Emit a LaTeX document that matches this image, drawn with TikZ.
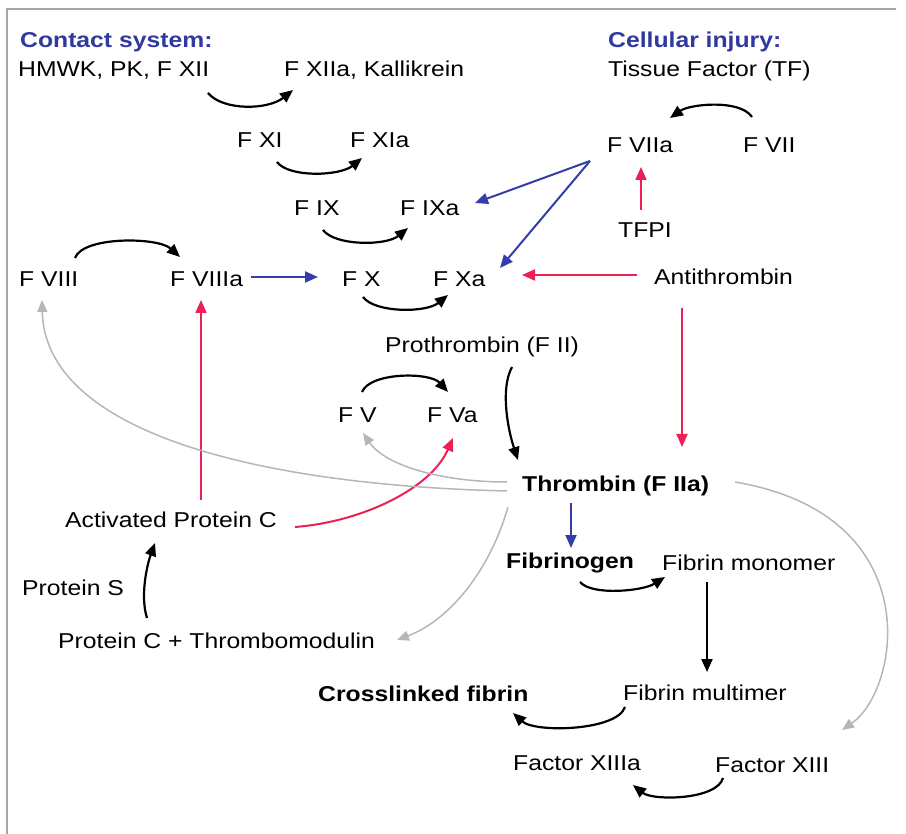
\documentclass[tikz,border=0pt]{standalone}
\usepackage{fontspec}
\setmainfont[FakeStretch=1.15]{Liberation Sans}
\usetikzlibrary{arrows.meta}
\definecolor{hblue}{RGB}{48,58,158}
\definecolor{ablue}{RGB}{52,62,168}
\definecolor{ared}{RGB}{236,32,84}
\definecolor{agray}{RGB}{182,182,182}
\definecolor{frame}{RGB}{165,165,165}
\tikzset{
  lbl/.style={inner sep=0pt, anchor=base west, font=\fontsize{21.5}{25}\selectfont},
  head/.style={lbl, font=\fontsize{21.5}{25}\selectfont\bfseries, text=hblue},
  bold/.style={lbl, font=\fontsize{21.5}{25}\selectfont\bfseries},
  tip/.style={-{Triangle[length=13pt,width=11pt]}},
  blk/.style={tip, line width=2.2pt, black},
  bluearr/.style={tip, line width=2pt, ablue},
  redarr/.style={tip, line width=2pt, ared},
  grayarr/.style={-{Triangle[length=12pt,width=10pt]}, line width=1.5pt, agray},
}
\begin{document}
\begin{tikzpicture}[x=1pt,y=-1pt]
\useasboundingbox (0,0) rectangle (906,834);
\draw[frame, line width=1.3pt] (7,834) -- (7,9) -- (896,9);

% nodes
\node[head] (cs) at (20,48) {Contact system:};
\node[lbl] (hm) at (18,77) {HMWK, PK, F XII};
\node[lbl] (fxiia) at (284,77) {F XIIa, Kallikrein};
\node[head] (ci) at (608,48) {Cellular injury:};
\node[lbl] (tf) at (608,77) {Tissue Factor (TF)};
\node[lbl] (fxi) at (237,148) {F XI};
\node[lbl] (fxia) at (350,148) {F XIa};
\node[lbl] (fviia) at (607,153) {F VIIa};
\node[lbl] (fvii) at (743,153) {F VII};
\node[lbl] (fix) at (294,216) {F IX};
\node[lbl] (fixa) at (400,216) {F IXa};
\node[lbl] (tfpi) at (618,238) {TFPI};
\node[lbl] (fviii) at (19,287) {F VIII};
\node[lbl] (fviiia) at (170,287) {F VIIIa};
\node[lbl] (fx) at (342,287) {F X};
\node[lbl] (fxa) at (433,287) {F Xa};
\node[lbl] (at) at (654,285) {Antithrombin};
\node[lbl] (pro) at (385,353) {Prothrombin (F II)};
\node[lbl] (fv) at (338,423) {F V};
\node[lbl] (fva) at (427,423) {F Va};
\node[bold] (thr) at (522,492) {Thrombin (F IIa)};
\node[lbl] (apc) at (65,527) {Activated Protein C};
\node[bold] (fbg) at (506,568) {Fibrinogen};
\node[lbl] (fm) at (662,570) {Fibrin monomer};
\node[lbl] (ps) at (22,595) {Protein S};
\node[lbl] (pctm) at (58,648) {Protein C + Thrombomodulin};
\node[bold] (cf) at (318,701) {Crosslinked fibrin};
\node[lbl] (fmul) at (623,700) {Fibrin multimer};
\node[lbl] (fxiiia) at (513,770) {Factor XIIIa};
\node[lbl] (fxiii) at (715,772) {Factor XIII};

% black conversion arrows
\draw[blk] ([shift={(190,16)}]hm.base west) .. controls +(15,18) and +(-25,20) .. ([shift={(9,13)}]fxiia.base west);
\draw[blk] ([shift={(40,14)}]fxi.base west) .. controls +(12,16) and +(-22,18) .. ([shift={(12,10)}]fxia.base west);
\draw[blk] ([shift={(29,14)}]fix.base west) .. controls +(12,16) and +(-22,18) .. ([shift={(8,12)}]fixa.base west);
\draw[blk] ([shift={(56,-29)}]fviii.base west) .. controls +(8,-22) and +(-22,-20) .. ([shift={(10,-30)}]fviiia.base west);
\draw[blk] ([shift={(21,10)}]fx.base west) .. controls +(12,16) and +(-22,18) .. ([shift={(15,8)}]fxa.base west);
\draw[blk] ([shift={(9,-36)}]fvii.base west) .. controls +(-12,-18) and +(20,-14) .. ([shift={(63,-35)}]fviia.base west);
\draw[blk] ([shift={(24,-31)}]fv.base west) .. controls +(8,-20) and +(-18,-20) .. ([shift={(21,-31)}]fva.base west);
\draw[blk] ([shift={(127,14)}]pro.base west) .. controls +(-12,22) and +(-10,-30) .. ([shift={(-4,-32)}]thr.base west);
\draw[blk] ([shift={(74,14)}]fbg.base west) .. controls +(12,14) and +(-22,14) .. ([shift={(3,7)}]fm.base west);
\draw[blk] ([shift={(45,12)}]fm.base west) -- ([shift={(84,-28)}]fmul.base west);
\draw[blk] ([shift={(2,7)}]fmul.base west) .. controls +(-8,24) and +(22,20) .. ([shift={(195,12)}]cf.base west);
\draw[blk] ([shift={(8,6)}]fxiii.base west) .. controls +(-6,22) and +(20,16) .. ([shift={(120,15)}]fxiiia.base west);
\draw[blk] ([shift={(89,-30)}]pctm.base west) .. controls +(-7,-22) and +(-8,22) .. ([shift={(90,16)}]apc.base west);

% blue arrows
\draw[bluearr] ([shift={(81,-10)}]fviiia.base west) -- ([shift={(-24,-10)}]fx.base west);
\coordinate (vsrc) at ([shift={(-17,8)}]fviia.base west);
\draw[bluearr] (vsrc) -- ([shift={(75,-13)}]fixa.base west);
\draw[bluearr] (vsrc) -- ([shift={(67,-19)}]fxa.base west);
\draw[bluearr] ([shift={(49,11)}]thr.base west) -- ([shift={(65,-20)}]fbg.base west);

% red arrows
\draw[redarr] ([shift={(23,-28)}]tfpi.base west) -- ([shift={(34,14)}]fviia.base west);
\draw[redarr] ([shift={(-17,-10)}]at.base west) -- ([shift={(89,-12)}]fxa.base west);
\draw[redarr] ([shift={(28,23)}]at.base west) -- ([shift={(160,-45)}]thr.base west);
\draw[redarr] ([shift={(136,-27)}]apc.base west) -- ([shift={(31,13)}]fviiia.base west);
\draw[redarr] ([shift={(230,0)}]apc.base west) .. controls +(65,-5) and +(-23,52) .. ([shift={(26,15)}]fva.base west);

% gray arrows from thrombin
\draw[grayarr] ([shift={(-15,-10)}]thr.base west) .. controls +(-67,0) and +(22,32) .. ([shift={(25,10)}]fv.base west);
\draw[grayarr] ([shift={(-15,-1)}]thr.base west) .. controls +(-257,-6) and +(3,130) .. ([shift={(23,13)}]fviii.base west);
\draw[grayarr] ([shift={(-14,15)}]thr.base west) .. controls +(-18,63) and +(53,-20) .. ([shift={(339,-8)}]pctm.base west);
\draw[grayarr] ([shift={(213,-10)}]thr.base west) .. controls +(195,33) and +(58,-40) .. ([shift={(127,-42)}]fxiii.base west);
\end{tikzpicture}
\end{document}
